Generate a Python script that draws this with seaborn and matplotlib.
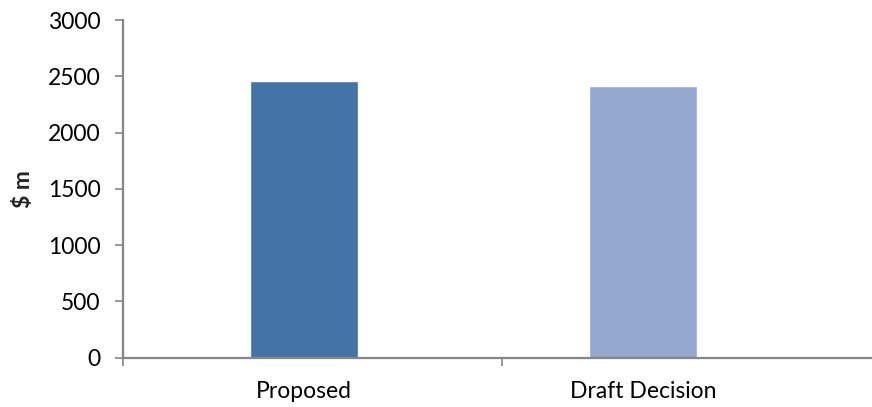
import matplotlib
matplotlib.use("Agg")
import matplotlib.pyplot as plt
import seaborn as sns
import pandas as pd
from matplotlib.ticker import FixedLocator, MultipleLocator

categories = ["Proposed", "Draft Decision"]
values = [2460, 2410]
bar_colors = ["#4573A7", "#95A9D0"]
y_label = "$ m"

sns.set_theme(style="white")
plt.rcParams["font.family"] = ["Lato", "DejaVu Sans"]

df = pd.DataFrame({"category": categories, "value": values})

fig = plt.figure(figsize=(8.72, 4.07), dpi=100)
ax = fig.add_axes([123 / 872, 49.5 / 407, (880 - 123) / 872, (357.5 - 20) / 407])

sns.barplot(data=df, x="category", y="value", hue="category",
            palette=bar_colors, width=0.317, saturation=1,
            legend=False, ax=ax)

ax.set_xlim(-0.533, 1.698)
ax.set_ylim(0, 3000)
ax.yaxis.set_major_locator(MultipleLocator(500))

grey = "#868686"
for side in ["top", "right"]:
    ax.spines[side].set_visible(False)
for side in ["left", "bottom"]:
    ax.spines[side].set_color(grey)
    ax.spines[side].set_linewidth(1.6)

fs = 16.5
ax.set_xlabel("")
ax.set_ylabel(y_label, fontsize=fs, fontweight="bold", labelpad=10)
ax.tick_params(axis="y", which="major", length=6, width=1.2, color=grey,
               direction="out", left=True, labelsize=fs, pad=10, labelcolor="black")
ax.tick_params(axis="x", which="major", length=0, labelsize=fs, pad=17, labelcolor="black")
ax.xaxis.set_minor_locator(FixedLocator([-0.533, 0.583]))
ax.tick_params(axis="x", which="minor", length=6, width=1.2, color=grey,
               direction="out", bottom=True)

fig.savefig("out.png", dpi=100)
